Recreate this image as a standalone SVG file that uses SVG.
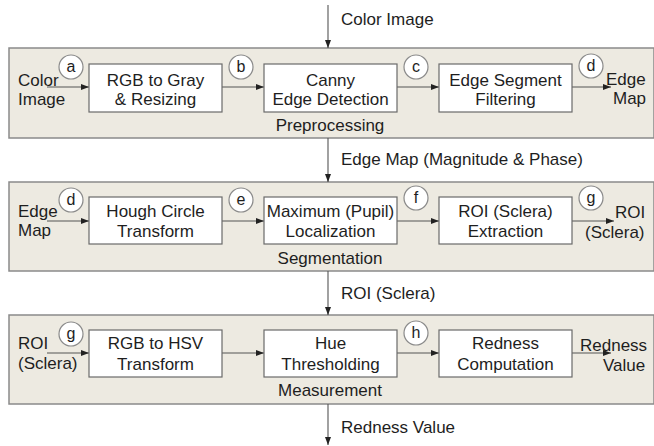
<svg xmlns="http://www.w3.org/2000/svg" width="654" height="446" viewBox="0 0 654 446">
  <style>
    .panel { fill: #edeae1; stroke: #8a8a8a; stroke-width: 1.5; }
    .box { fill: #ffffff; stroke: #6a6a6a; stroke-width: 1.2; }
    .tag { fill: #ffffff; stroke: #8a8a8a; stroke-width: 1.2; }
    text { font-family: "Liberation Sans", Arial, sans-serif; font-size: 17px; fill: #1e1e1e; }
    .c { text-anchor: middle; }
    .t { font-size: 16px; }
    .link { stroke: #555555; stroke-width: 1.1; fill: none; marker-end: url(#ah); }
  </style>
  <defs>
    <marker id="ah" viewBox="0 0 8 6" refX="8" refY="3" markerWidth="8" markerHeight="6" markerUnits="userSpaceOnUse" orient="auto">
      <path d="M0,0 L8,3 L0,6 z" fill="#222222"/>
    </marker>
  </defs>

  <!-- stage panels -->
  <g id="preprocessing">
    <rect class="panel" x="9" y="48" width="645" height="90"/>
    <text class="c" x="330" y="131">Preprocessing</text>
  </g>
  <g id="segmentation">
    <rect class="panel" x="9" y="182" width="645" height="89"/>
    <text class="c" x="330" y="264">Segmentation</text>
  </g>
  <g id="measurement">
    <rect class="panel" x="9" y="315" width="645" height="89"/>
    <text class="c" x="330" y="396">Measurement</text>
  </g>

  <!-- connectors -->
  <g id="connectors">
    <line class="link" x1="328" y1="5" x2="328" y2="48"/>
    <line class="link" x1="328" y1="138" x2="328" y2="182"/>
    <line class="link" x1="328" y1="271" x2="328" y2="315"/>
    <line class="link" x1="328" y1="404" x2="328" y2="445"/>

    <line class="link" x1="47" y1="87" x2="89" y2="87"/>
    <line class="link" x1="222" y1="87" x2="264" y2="87"/>
    <line class="link" x1="397" y1="87" x2="439" y2="87"/>
    <line class="link" x1="572" y1="87" x2="611" y2="87"/>

    <line class="link" x1="47" y1="221" x2="89" y2="221"/>
    <line class="link" x1="222" y1="221" x2="264" y2="221"/>
    <line class="link" x1="397" y1="221" x2="439" y2="221"/>
    <line class="link" x1="572" y1="221" x2="614" y2="221"/>

    <line class="link" x1="47" y1="353" x2="89" y2="353"/>
    <line class="link" x1="222" y1="353" x2="264" y2="353"/>
    <line class="link" x1="397" y1="353" x2="439" y2="353"/>
    <line class="link" x1="572" y1="353" x2="611" y2="353"/>
  </g>

  <!-- flow labels between stages -->
  <g id="flow-labels">
    <text x="341" y="25">Color Image</text>
    <text x="341" y="165">Edge Map (Magnitude &amp; Phase)</text>
    <text x="341" y="299">ROI (Sclera)</text>
    <text x="341" y="433">Redness Value</text>
  </g>

  <!-- preprocessing row -->
  <g id="in-color-image"><text x="18" y="86">Color</text><text x="18" y="105">Image</text></g>
  <g id="rgb-gray"><rect class="box" x="89" y="64" width="133" height="48"/><text class="c" x="155.5" y="86">RGB to Gray</text><text class="c" x="155.5" y="105">&amp; Resizing</text></g>
  <g id="canny"><rect class="box" x="264" y="64" width="133" height="48"/><text class="c" x="330.5" y="86">Canny</text><text class="c" x="330.5" y="105">Edge Detection</text></g>
  <g id="edge-filter"><rect class="box" x="439" y="64" width="133" height="48"/><text class="c" x="505.5" y="86">Edge Segment</text><text class="c" x="505.5" y="105">Filtering</text></g>
  <g id="out-edge-map"><text x="606" y="85">Edge</text><text x="613" y="104">Map</text></g>
  <g id="tag-a"><circle class="tag" cx="71" cy="67" r="12"/><text class="c t" x="71" y="72">a</text></g>
  <g id="tag-b"><circle class="tag" cx="241" cy="67" r="12"/><text class="c t" x="241" y="72">b</text></g>
  <g id="tag-c"><circle class="tag" cx="416" cy="67" r="12"/><text class="c t" x="416" y="72">c</text></g>
  <g id="tag-d1"><circle class="tag" cx="591" cy="66" r="12"/><text class="c t" x="591" y="71">d</text></g>

  <!-- segmentation row -->
  <g id="in-edge-map"><text x="18" y="217">Edge</text><text x="18" y="236">Map</text></g>
  <g id="hough"><rect class="box" x="89" y="197" width="133" height="47"/><text class="c" x="155.5" y="217">Hough Circle</text><text class="c" x="155.5" y="237">Transform</text></g>
  <g id="pupil"><rect class="box" x="264" y="197" width="133" height="47"/><text class="c" x="330.5" y="217">Maximum (Pupil)</text><text class="c" x="330.5" y="237">Localization</text></g>
  <g id="roi-extract"><rect class="box" x="439" y="197" width="133" height="47"/><text class="c" x="505.5" y="217">ROI (Sclera)</text><text class="c" x="505.5" y="237">Extraction</text></g>
  <g id="out-roi"><text x="615" y="218">ROI</text><text x="585" y="238">(Sclera)</text></g>
  <g id="tag-d2"><circle class="tag" cx="71" cy="200" r="12"/><text class="c t" x="71" y="205">d</text></g>
  <g id="tag-e"><circle class="tag" cx="241" cy="200" r="12"/><text class="c t" x="241" y="205">e</text></g>
  <g id="tag-f"><circle class="tag" cx="416" cy="198" r="12"/><text class="c t" x="416" y="203">f</text></g>
  <g id="tag-g1"><circle class="tag" cx="591" cy="198" r="12"/><text class="c t" x="591" y="203">g</text></g>

  <!-- measurement row -->
  <g id="in-roi"><text x="18" y="349">ROI</text><text x="18" y="369">(Sclera)</text></g>
  <g id="hsv"><rect class="box" x="89" y="330" width="133" height="47"/><text class="c" x="155.5" y="349">RGB to HSV</text><text class="c" x="155.5" y="370">Transform</text></g>
  <g id="hue"><rect class="box" x="264" y="330" width="133" height="47"/><text class="c" x="330.5" y="349">Hue</text><text class="c" x="330.5" y="370">Thresholding</text></g>
  <g id="redness"><rect class="box" x="439" y="330" width="133" height="47"/><text class="c" x="505.5" y="349">Redness</text><text class="c" x="505.5" y="370">Computation</text></g>
  <g id="out-redness"><text x="580" y="351">Redness</text><text x="603" y="371">Value</text></g>
  <g id="tag-g2"><circle class="tag" cx="71" cy="334" r="12"/><text class="c t" x="71" y="339">g</text></g>
  <g id="tag-h"><circle class="tag" cx="416" cy="333" r="12"/><text class="c t" x="416" y="338">h</text></g>
</svg>
